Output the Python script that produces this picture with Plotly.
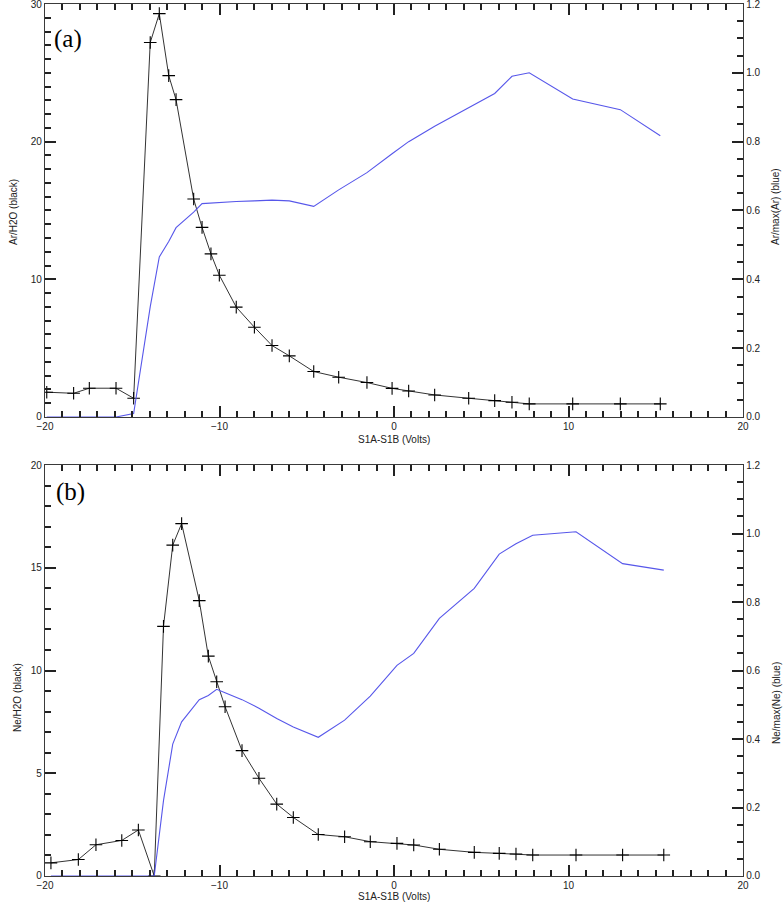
import plotly.graph_objects as go

# --- panel (a): argon ---
AR_V = [-19.9, -18.36, -17.46, -15.93, -14.92, -13.97, -13.45, -12.91, -12.49, -11.48,
        -11.0, -10.49, -10.01, -9.04, -8.0, -6.99, -6.0, -4.6, -3.17, -1.55,
        -0.11, 0.84, 2.33, 4.28, 5.77, 6.76, 7.75, 10.24, 12.97, 15.26]
AR_H2O = [1.8, 1.72, 2.09, 2.09, 1.36, 27.2, 29.3, 24.8, 23.05, 15.83,
          13.77, 11.85, 10.3, 7.98, 6.52, 5.19, 4.44, 3.3, 2.89, 2.5,
          2.08, 1.89, 1.6, 1.36, 1.19, 1.07, 0.95, 0.95, 0.95, 0.95]
AR_NORM = [0.0, 0.0, 0.0, 0.0, 0.01, 0.32, 0.465, 0.51, 0.55, 0.595,
           0.62, 0.622, 0.624, 0.626, 0.628, 0.63, 0.628, 0.612, 0.66, 0.71,
           0.765, 0.8, 0.845, 0.9, 0.94, 0.99, 1.0, 0.924, 0.893, 0.817]

# --- panel (b): neon ---
NE_V = [-19.66, -18.09, -17.08, -15.6, -14.65, -13.74, -13.21, -12.68, -12.17, -11.16,
        -10.64, -10.16, -9.68, -8.71, -7.74, -6.72, -5.77, -4.34, -2.83, -1.36,
        0.17, 1.13, 2.6, 4.6, 6.03, 6.99, 7.95, 10.43, 13.1, 15.46]
NE_H2O = [0.64, 0.8, 1.52, 1.73, 2.24, 0.0, 12.15, 16.1, 17.15, 13.4,
          10.7, 9.45, 8.24, 6.1, 4.76, 3.5, 2.85, 2.02, 1.91, 1.67,
          1.59, 1.51, 1.3, 1.15, 1.1, 1.07, 1.02, 1.02, 1.02, 1.02]
NE_NORM = [0.0, 0.0, 0.0, 0.0, 0.0, 0.0, 0.22, 0.385, 0.45, 0.515,
           0.527, 0.545, 0.535, 0.515, 0.49, 0.46, 0.435, 0.405, 0.455, 0.525,
           0.615, 0.65, 0.752, 0.84, 0.94, 0.97, 0.995, 1.005, 0.912, 0.893]

FONT = "Liberation Sans"
AXC = "#3a3a3a"
TICKC = "#222222"
BLACK = "#333333"
BLUE = "#5757ea"

fig = go.Figure()

cross = dict(symbol="cross-thin", size=9, color="black", line=dict(width=1.1, color="black"))
fig.add_trace(go.Scatter(x=AR_V, y=AR_H2O, mode="lines+markers", xaxis="x", yaxis="y",
                         line=dict(color=BLACK, width=1), marker=cross, showlegend=False))
fig.add_trace(go.Scatter(x=AR_V, y=AR_NORM, mode="lines", xaxis="x", yaxis="y2",
                         line=dict(color=BLUE, width=1.1), showlegend=False))
fig.add_trace(go.Scatter(x=NE_V, y=NE_H2O, mode="lines+markers", xaxis="x2", yaxis="y3",
                         line=dict(color=BLACK, width=1), marker=cross, showlegend=False))
fig.add_trace(go.Scatter(x=NE_V, y=NE_NORM, mode="lines", xaxis="x2", yaxis="y4",
                         line=dict(color=BLUE, width=1.1), showlegend=False))


def ax(rng, dtick, minor, **kw):
    d = dict(range=rng, dtick=dtick, tick0=0, showline=True, linecolor=AXC, linewidth=1.3,
             ticks="inside", ticklen=11, tickwidth=2, tickcolor=TICKC, automargin=False,
             ticklabeloverflow="allow", showgrid=False, zeroline=False, fixedrange=True,
             tickfont=dict(family=FONT, size=10, color="#222"),
             minor=dict(ticks="inside", ticklen=6, tickwidth=1.5, tickcolor=TICKC,
                        dtick=minor, tick0=0, showgrid=False))
    d.update(kw)
    return d


TOP = [0.5264, 1.0]
BOT = [0.0, 0.4713]

fig.update_layout(
    width=784, height=905,
    margin=dict(l=45, r=41, t=4, b=29),
    paper_bgcolor="white", plot_bgcolor="white",
    xaxis=ax([-20, 20], 10, 1, domain=[0, 1], anchor="y", mirror="ticks"),
    yaxis=ax([0, 30], 10, 1, domain=TOP, anchor="x"),
    yaxis2=ax([0, 1.2], 0.2, 0.05, overlaying="y", side="right", anchor="x",
              tickformat=".1f"),
    xaxis2=ax([-20, 20], 10, 1, domain=[0, 1], anchor="y3", mirror="ticks"),
    yaxis3=ax([0, 20], 5, 1, domain=BOT, anchor="x2"),
    yaxis4=ax([0, 1.2], 0.2, 0.05, overlaying="y3", side="right", anchor="x2",
              tickformat=".1f"),
)

lab = dict(family=FONT, size=10, color="#222")
ann = [
    # x titles
    dict(text="S1A-S1B (Volts)", x=0.5, y=(876 - 439) / 872, xref="paper", yref="paper",
         showarrow=False, font=lab, yanchor="middle"),
    dict(text="S1A-S1B (Volts)", x=0.5, y=(876 - 896) / 872, xref="paper", yref="paper",
         showarrow=False, font=lab, yanchor="middle"),
    # left / right y titles
    dict(text="Ar/H2O (black)", x=-32 / 698, y=(876 - 212) / 872, xref="paper", yref="paper",
         showarrow=False, font=lab, textangle=-90, xanchor="center", yanchor="middle"),
    dict(text="Ar/max(Ar) (blue)", x=1 + 33 / 698, y=(876 - 207) / 872, xref="paper", yref="paper",
         showarrow=False, font=lab, textangle=-90, xanchor="center", yanchor="middle"),
    dict(text="Ne/H2O (black)", x=-28 / 698, y=(876 - 697) / 872, xref="paper", yref="paper",
         showarrow=False, font=lab, textangle=-90, xanchor="center", yanchor="middle"),
    dict(text="Ne/max(Ne) (blue)", x=1 + 33 / 698, y=(876 - 703) / 872, xref="paper", yref="paper",
         showarrow=False, font=lab, textangle=-90, xanchor="center", yanchor="middle"),
    # panel labels
    dict(text="(a)", x=(68 - 45) / 698, y=(876 - 39) / 872, xref="paper", yref="paper",
         showarrow=False, font=dict(family="Liberation Serif", size=25, color="black"),
         xanchor="center", yanchor="middle"),
    dict(text="(b)", x=(70 - 45) / 698, y=(876 - 492) / 872, xref="paper", yref="paper",
         showarrow=False, font=dict(family="Liberation Serif", size=25, color="black"),
         xanchor="center", yanchor="middle"),
]
fig.update_layout(annotations=ann)

# page body has a default 8px margin; drop it so the figure sits at (0, 0)
fig.write_html("out.html", config={"displayModeBar": False},
               post_script="document.body.style.margin='0';")
